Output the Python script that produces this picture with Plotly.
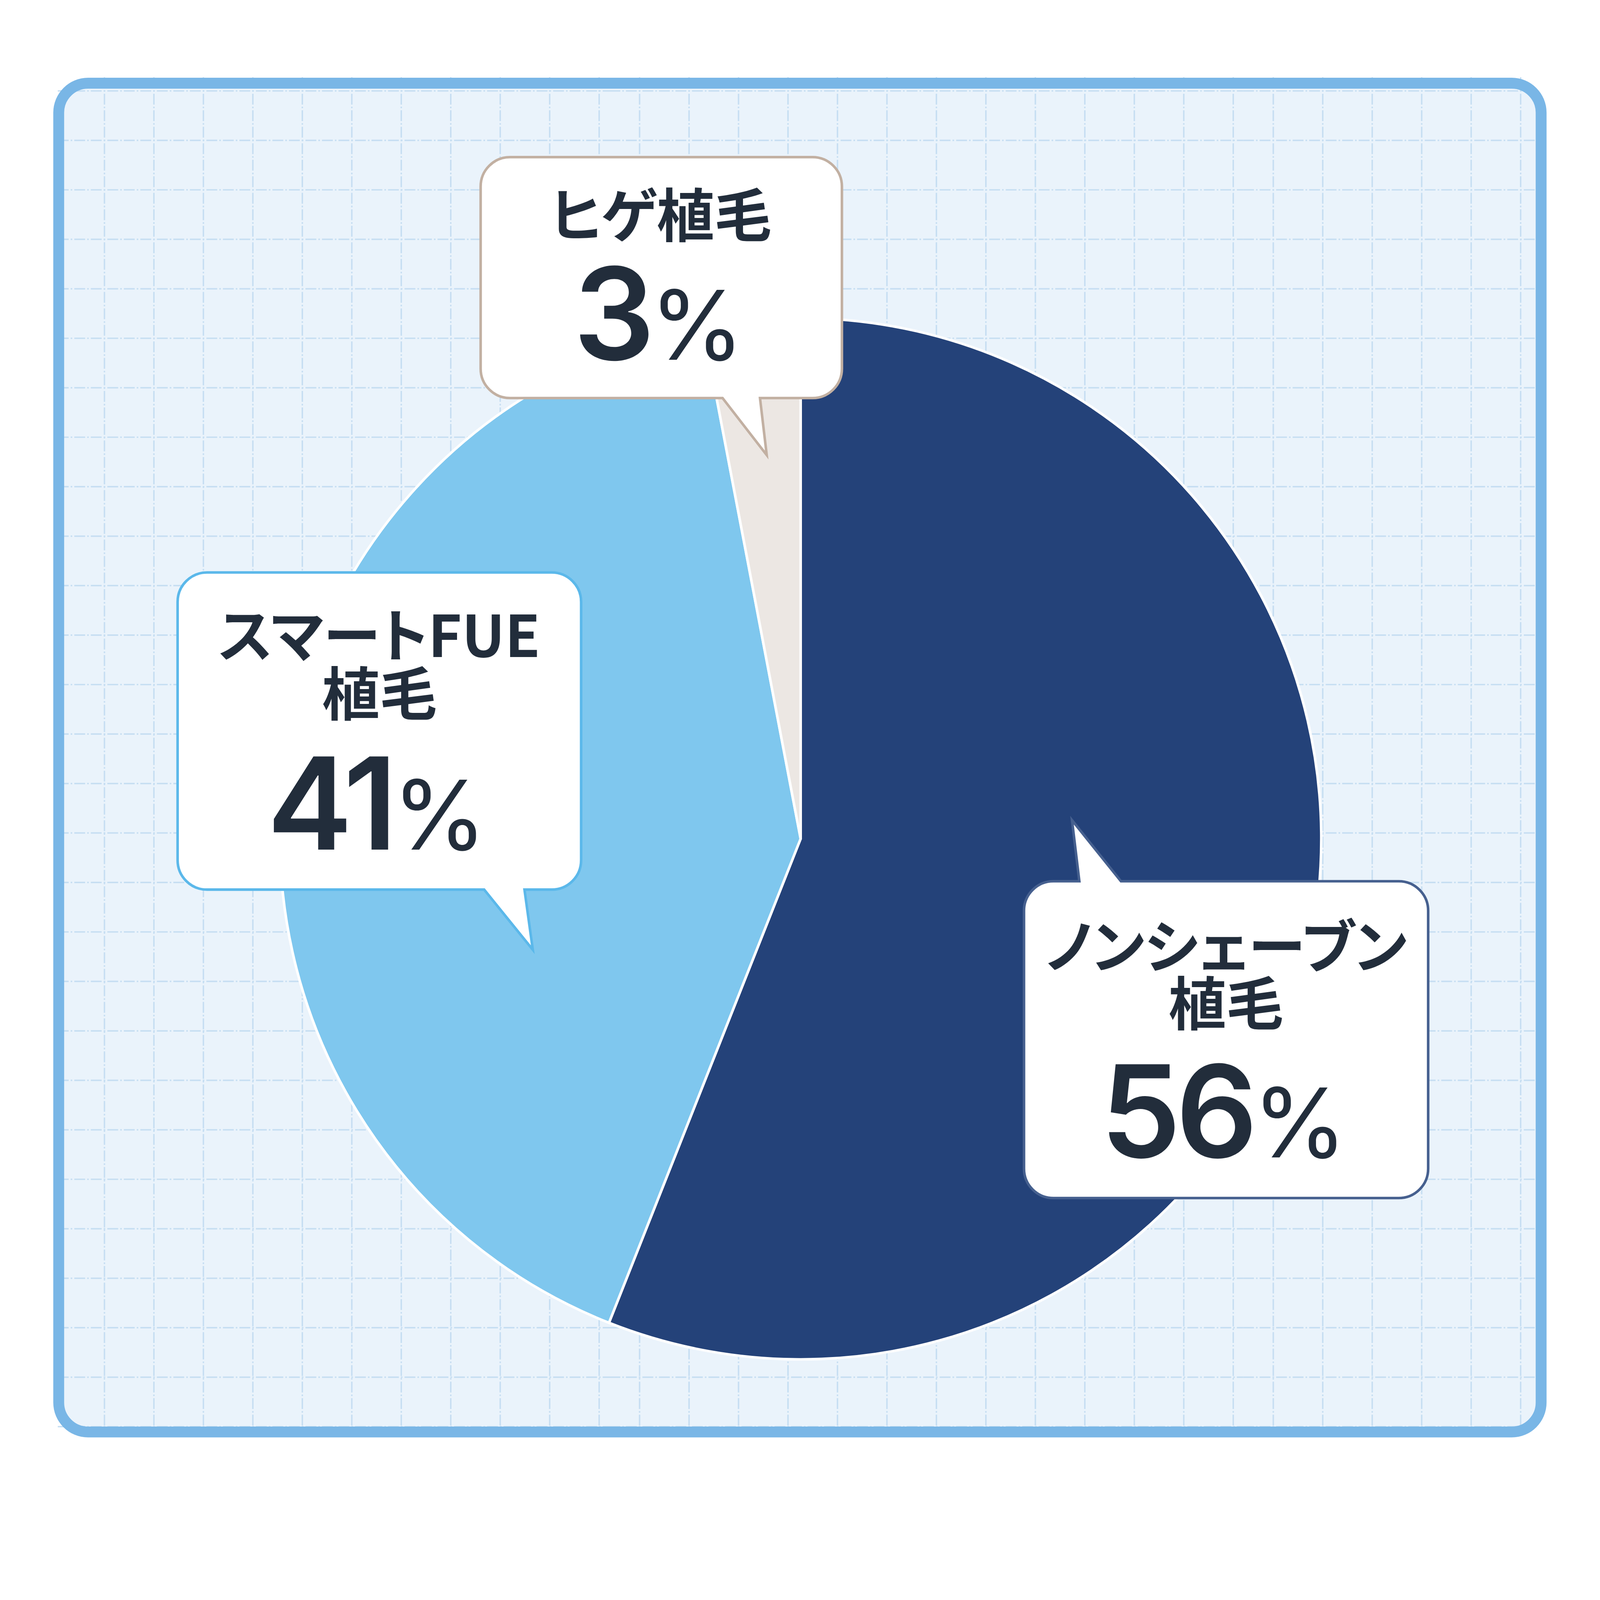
import plotly.graph_objects as go

# chart data
labels = ["ノンシェーブン植毛", "スマートFUE植毛", "ヒゲ植毛"]
label_lines = [["ノンシェーブン", "植毛"], ["スマートFUE", "植毛"], ["ヒゲ植毛"]]
values = [56, 41, 3]

# layout is measured on the 5000x4686 picture; the page viewport is 4096 css px wide,
# and the body has the usual 8px margin
REF_W, REF_H = 5000, 4686
S = 4096 / REF_W
OFF = 8
W = int(REF_W * S - OFF)
H = int(REF_H * S - OFF)

slice_colors = ["#244279", "#7FC7EE", "#ECE7E3"]
bubble_edges = ["#46608F", "#5BB8EA", "#C2B0A2"]
TEXT = "#222D3B"
JP = "Noto Sans CJK JP"
NUM = "Inter"

# pie centre / radius (reference px)
CX, CY, R = 2502, 2621, 1627

# callout boxes (reference px): box, tail side, tail gap, tail tip, text row centres, digit baseline
bubbles = [
    dict(box=(3200, 2754, 4463, 3744), side="top", gap=(3373, 3503), tip=(3350, 2563),
         rows=[2956, 3134], base=3622),
    dict(box=(555, 1789, 1816, 2780), side="bottom", gap=(1513, 1639), tip=(1665, 2968),
         rows=[1984, 2166], base=2660),
    dict(box=(1502, 491, 2631, 1244), side="bottom", gap=(2258, 2375), tip=(2396, 1422),
         rows=[671], base=1129),
]


def X(px):
    return (px * S - OFF) / W


def Y(py):
    return 1 - (py * S - OFF) / H


def P(x, y):
    return "%.5f,%.5f" % (X(x), Y(y))


def rounded_path(x0, y0, x1, y1, r, side=None, gap=None, tip=None):
    k = 0.5523 * r
    s = ["M" + P(x0 + r, y0)]
    if side == "top":
        s += ["L" + P(gap[0], y0), "L" + P(*tip), "L" + P(gap[1], y0)]
    s.append("L" + P(x1 - r, y0))
    s.append("C" + P(x1 - r + k, y0) + " " + P(x1, y0 + r - k) + " " + P(x1, y0 + r))
    s.append("L" + P(x1, y1 - r))
    s.append("C" + P(x1, y1 - r + k) + " " + P(x1 - r + k, y1) + " " + P(x1 - r, y1))
    if side == "bottom":
        s += ["L" + P(gap[1], y1), "L" + P(*tip), "L" + P(gap[0], y1)]
    s.append("L" + P(x0 + r, y1))
    s.append("C" + P(x0 + r - k, y1) + " " + P(x0, y1 - r + k) + " " + P(x0, y1 - r))
    s.append("L" + P(x0, y0 + r))
    s.append("C" + P(x0, y0 + r - k) + " " + P(x0 + r - k, y0) + " " + P(x0 + r, y0))
    s.append("Z")
    return " ".join(s)


shapes = []

# frame background
FX0, FY0, FX1, FY1 = 183.5, 260, 4816, 4475
shapes.append(dict(type="path", xref="paper", yref="paper", layer="below",
                   path=rounded_path(FX0, FY0, FX1, FY1, 92),
                   fillcolor="#EAF3FB", line=dict(width=0)))

# dash-dot grid
STEP = 154.6
PER = STEP / 3
dash = ",".join("%.2fpx" % (v * S) for v in (34, 6.3, 5, 6.3))
grid_line = dict(color="#C6DEF2", width=4.5 * S, dash=dash)
col_groups = [(326.4, 11), (1998.7, 13), (3979.0, 6)]
xs = [x0 + STEP * i for x0, n in col_groups for i in range(n)]
ys = [284.1 + STEP * i for i in range(28)]
seg_starts = [x0 - 42.8 - PER * 2 for x0, n in col_groups]
seg_starts[1] += PER
seg_starts[2] += PER
seg_ends = seg_starts[1:] + [4800]
for y in ys:
    for a, b in zip(seg_starts, seg_ends):
        shapes.append(dict(type="line", xref="paper", yref="paper", layer="below",
                           x0=X(a), x1=X(b), y0=Y(y), y1=Y(y), line=grid_line))
for x in xs:
    shapes.append(dict(type="line", xref="paper", yref="paper", layer="below",
                       x0=X(x), x1=X(x), y0=Y(284.1 - 42.8), y1=Y(4470), line=grid_line))

# frame border
shapes.append(dict(type="path", xref="paper", yref="paper", layer="below",
                   path=rounded_path(FX0, FY0, FX1, FY1, 92),
                   fillcolor="rgba(0,0,0,0)", line=dict(color="#79B6E6", width=34 * S)))

# callouts
annotations = []
for b, lines, v, edge in zip(bubbles, label_lines, values, bubble_edges):
    x0, y0, x1, y1 = b["box"]
    shapes.append(dict(type="path", xref="paper", yref="paper", layer="above",
                       path=rounded_path(x0, y0, x1, y1, 92, b["side"], b["gap"], b["tip"]),
                       fillcolor="white", line=dict(color=edge, width=8 * S)))
    cx = (x0 + x1) / 2
    for row, line_text in zip(b["rows"], lines):
        annotations.append(dict(
            xref="paper", yref="paper", x=X(cx), y=Y(row - 10),
            xanchor="center", yanchor="middle", showarrow=False,
            text="<span style=\"font-feature-settings:'palt' 1\">" + line_text + "</span>",
            font=dict(family=JP, size=180 * S, color=TEXT, weight=700)))
    pct = ("<span style=\"letter-spacing:%dpx\">%s</span>" % (round(-16 * S), v)
           + "<span style=\"font-size:%dpx;font-weight:400\">%%</span>" % round(300 * S))
    annotations.append(dict(
        xref="paper", yref="paper", x=X(cx - 8), y=Y(b["base"] - 150),
        xanchor="center", yanchor="middle", showarrow=False,
        text=pct,
        font=dict(family=NUM, size=400 * S, color=TEXT, weight=600)))

fig = go.Figure(go.Pie(
    labels=labels, values=values, sort=False, direction="clockwise", rotation=0,
    marker=dict(colors=slice_colors, line=dict(color="white", width=8 * S)),
    textinfo="none", hoverinfo="skip", showlegend=False,
    domain=dict(x=[X(CX - R), X(CX + R)], y=[Y(CY + R), Y(CY - R)]),
))

fig.update_layout(
    width=W, height=H,
    margin=dict(l=0, r=0, t=0, b=0),
    paper_bgcolor="white",
    shapes=shapes,
    annotations=annotations,
)

fig.write_html("out.html")
